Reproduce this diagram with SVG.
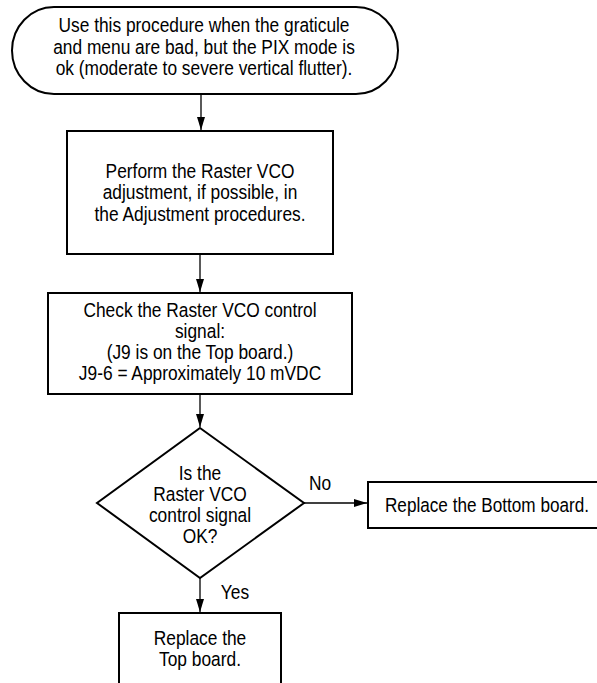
<svg xmlns="http://www.w3.org/2000/svg" width="597" height="683" viewBox="0 0 597 683">
<defs>
<style>
.shape{fill:#fff;stroke:#000;stroke-width:2}
.t{font-family:"Liberation Sans",Arial,sans-serif;font-size:19.5px;fill:#000;text-anchor:middle}
.c{fill:none;stroke:#000;stroke-width:1.3}
</style>
<marker id="ah" markerWidth="14" markerHeight="10" refX="13" refY="4" orient="auto" markerUnits="userSpaceOnUse">
<path d="M0,0 L13,4 L0,8 Z" fill="#000"/>
</marker>
</defs>
<rect width="597" height="683" fill="#fff"/>
<g id="connectors">
<line class="c" x1="201" y1="94" x2="201" y2="130" marker-end="url(#ah)"/>
<line class="c" x1="200" y1="254" x2="200" y2="292" marker-end="url(#ah)"/>
<line class="c" x1="200" y1="394" x2="200" y2="427" marker-end="url(#ah)"/>
<line class="c" x1="304" y1="503" x2="367" y2="503" marker-end="url(#ah)"/>
<line class="c" x1="200" y1="578" x2="200" y2="612" marker-end="url(#ah)"/>
<text class="t" transform="translate(320,490) scale(.89,1)">No</text>
<text class="t" transform="translate(235,599) scale(.89,1)">Yes</text>
</g>
<g id="start">
<rect class="shape" x="12" y="7" width="386" height="87" rx="42" ry="43.5"/>
<text class="t" transform="translate(204,32) scale(.89,1)">Use this procedure when the graticule</text>
<text class="t" transform="translate(204,54) scale(.89,1)">and menu are bad, but the PIX mode is</text>
<text class="t" transform="translate(204,75) scale(.89,1)">ok (moderate to severe vertical flutter).</text>
</g>
<g id="adjust">
<rect class="shape" x="67" y="131" width="266" height="123"/>
<text class="t" transform="translate(200,178) scale(.89,1)">Perform the Raster VCO</text>
<text class="t" transform="translate(200,199) scale(.89,1)">adjustment, if possible, in</text>
<text class="t" transform="translate(200,221) scale(.89,1)">the Adjustment procedures.</text>
</g>
<g id="check">
<rect class="shape" x="48" y="293" width="304" height="101"/>
<text class="t" transform="translate(200,317) scale(.89,1)">Check the Raster VCO control</text>
<text class="t" transform="translate(200,338) scale(.89,1)">signal:</text>
<text class="t" transform="translate(200,359) scale(.89,1)">(J9 is on the Top board.)</text>
<text class="t" transform="translate(200,380) scale(.89,1)">J9-6 = Approximately 10 mVDC</text>
</g>
<g id="decision">
<polygon class="shape" points="200,428 304,503 200,578 97,503"/>
<text class="t" transform="translate(200,480) scale(.89,1)">Is the</text>
<text class="t" transform="translate(200,501) scale(.89,1)">Raster VCO</text>
<text class="t" transform="translate(200,522) scale(.89,1)">control signal</text>
<text class="t" transform="translate(200,543) scale(.89,1)">OK?</text>
</g>
<g id="bottom">
<rect class="shape" x="368" y="482" width="232" height="46"/>
<text class="t" transform="translate(487,512) scale(.88,1)">Replace the Bottom board.</text>
</g>
<g id="top">
<rect class="shape" x="119" y="613" width="162" height="80"/>
<text class="t" transform="translate(200,645) scale(.89,1)">Replace the</text>
<text class="t" transform="translate(200,666) scale(.89,1)">Top board.</text>
</g>
</svg>
